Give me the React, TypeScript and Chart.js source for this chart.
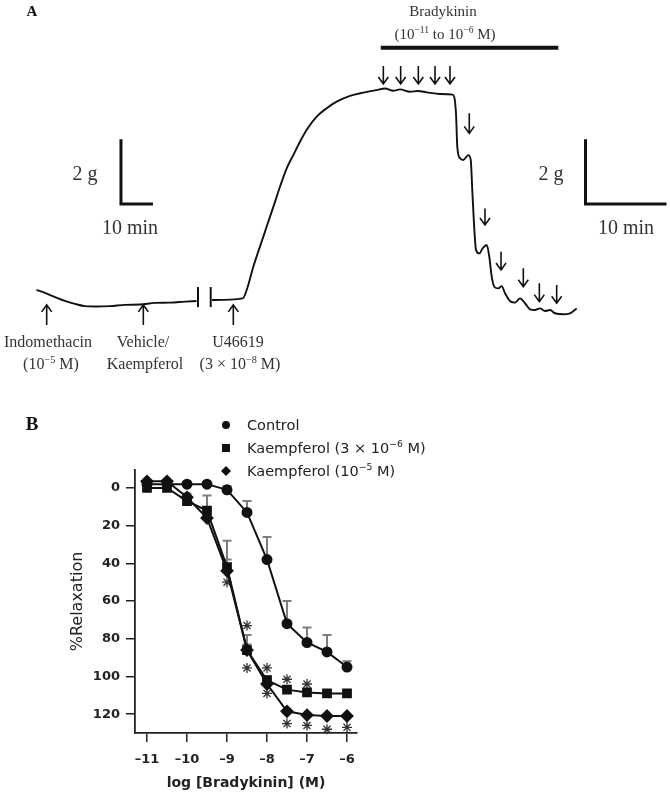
import React, { useEffect, useRef } from 'react';
import { Chart, registerables } from 'chart.js';

Chart.register(...registerables);

const SERIF = '"Liberation Serif", "Times New Roman", serif';
const SANS = '"DejaVu Sans", Verdana, sans-serif';

// ---------------- Panel A: isometric tension trace (time in min, tension in g) ----------------
const preBreakTime = [0.06, 1.11, 2.35, 3.58, 4.81, 6.05, 7.41, 9.14, 10.99, 12.84, 14.69, 16.54, 18.4, 19.81];
const preBreakTension = [0.31, 0.22, 0.09, -0.03, -0.12, -0.19, -0.2, -0.19, -0.15, -0.14, -0.09, -0.08, -0.05, -0.03];

const traceTime = [
  21.73, 25.52, 26.01, 26.83, 27.65, 28.48, 29.3, 30.12, 30.95, 31.77, 32.59, 33.42, 34.65, 35.89, 37.12,
  38.77, 40.41, 42.06, 43.09, 44.11, 44.94, 46.17, 47.16, 48.23, 49.88, 51.44, 51.85, 52.01, 52.35, 52.75,
  53.37, 53.67, 53.86, 54.07, 54.32, 54.73, 55.15, 55.64, 55.96, 56.26, 56.58, 57.07, 57.49, 57.9, 58.6,
  59.14, 59.75, 60.37, 60.99, 61.6, 62.22, 62.84, 63.46, 64.07, 65.1, 65.93, 66.75,
];
const traceTension = [
  0, 0.05, 0.31, 1.03, 1.65, 2.27, 2.88, 3.5, 4.07, 4.48, 4.89, 5.26, 5.67, 5.93, 6.13,
  6.31, 6.41, 6.49, 6.54, 6.47, 6.51, 6.44, 6.46, 6.42, 6.37, 6.35, 5.77, 4.74, 4.38, 4.33,
  4.48, 4.33, 3.4, 2.37, 1.55, 1.44, 1.6, 1.7, 1.34, 0.72, 0.41, 0.36, 0.43, 0.21, -0.05,
  -0.08, 0.05, -0.1, -0.29, -0.31, -0.26, -0.34, -0.31, -0.41, -0.44, -0.41, -0.26,
];

// drug additions (time, arrow tail tension, arrow tip tension)
const drugArrowTime = [1.32, 13.25, 24.36];
const bradykininArrowTime = [42.88, 45.02, 47.2, 49.26, 51.11, 53.49, 55.43, 57.41, 60.16, 62.14, 64.28];
const bradykininArrowTail = [7.23, 7.23, 7.23, 7.23, 7.23, 5.77, 2.83, 1.49, 0.98, 0.52, 0.46];
const bradykininArrowTip = [6.68, 6.68, 6.68, 6.68, 6.68, 5.15, 2.32, 0.93, 0.41, -0.05, -0.1];

// ---------------- Panel B: concentration-response curves ----------------
const logBradykinin = [-11, -10.5, -10, -9.5, -9, -8.5, -8, -7.5, -7, -6.5, -6];
const controlRelax = [-2, -2, -2, -2, 1, 13, 38, 72, 82, 87, 95];
const controlSem = [0, 0, 0, 0, 2, 6, 12, 12, 8, 9, 3];
const kaemp3Relax = [0, 0, 7, 12, 42, 86, 102, 107, 108.5, 109, 109];
const kaemp3Sem = [1, 1, 3, 8, 14, 8, 2, 1, 1, 1, 1];
const kaemp10Relax = [-3.5, -3.5, 5, 16, 44, 86, 104, 118.5, 120.5, 121, 121];
const kaemp10Sem = [1, 1, 2, 4, 6, 3, 2, 1, 1, 1, 1];
const sigX = [-9, -8.5, -8.5, -8, -8, -7.5, -7.5, -7, -7, -6.5, -6];
const sigY = [50, 73, 95.5, 95.5, 109, 101.5, 125, 104, 126, 128, 127];
const xTickValues = [-11, -10, -9, -8, -7, -6];
const yTickValues = [0, 20, 40, 60, 80, 100, 120];

type Seg = { t: string; sup?: boolean };

function drawSegs(
  ctx: CanvasRenderingContext2D,
  segs: Seg[],
  x: number,
  cy: number,
  size: number,
  family: string,
  align: 'center' | 'left' = 'center',
  weight = 'normal'
) {
  const supSize = size * 0.64;
  const widths = segs.map((s) => {
    ctx.font = `${weight} ${s.sup ? supSize : size}px ${family}`;
    return ctx.measureText(s.t).width;
  });
  const total = widths.reduce((a, b) => a + b, 0);
  let px = align === 'center' ? x - total / 2 : x;
  const base = cy + size * 0.33;
  ctx.textAlign = 'left';
  ctx.textBaseline = 'alphabetic';
  segs.forEach((s, i) => {
    ctx.font = `${weight} ${s.sup ? supSize : size}px ${family}`;
    ctx.fillText(s.t, px, s.sup ? base - size * 0.4 : base);
    px += widths[i];
  });
}

function arrow(ctx: CanvasRenderingContext2D, x: number, yTail: number, yTip: number) {
  const dir = Math.sign(yTip - yTail);
  ctx.beginPath();
  ctx.moveTo(x, yTail);
  ctx.lineTo(x, yTip);
  ctx.moveTo(x - 5, yTip - dir * 7);
  ctx.lineTo(x, yTip);
  ctx.lineTo(x + 5, yTip - dir * 7);
  ctx.stroke();
}

const panelAPlugin = {
  id: 'panelA',
  afterDatasetsDraw(chart: any) {
    const { ctx } = chart;
    const X = (t: number) => chart.scales.x.getPixelForValue(t);
    const Y = (g: number) => chart.scales.y.getPixelForValue(g);
    ctx.save();
    ctx.strokeStyle = '#111';
    ctx.lineCap = 'butt';

    // break in the recording
    ctx.lineWidth = 2;
    [20.0, 21.57].forEach((t) => {
      ctx.beginPath();
      ctx.moveTo(X(t), Y(0.4));
      ctx.lineTo(X(t), Y(-0.22));
      ctx.stroke();
    });

    // arrows
    ctx.lineWidth = 1.6;
    drugArrowTime.forEach((t) => arrow(ctx, X(t), Y(-0.77), Y(-0.15)));
    bradykininArrowTime.forEach((t, i) => arrow(ctx, X(t), Y(bradykininArrowTail[i]), Y(bradykininArrowTip[i])));

    // bradykinin exposure bar
    ctx.lineWidth = 4;
    ctx.beginPath();
    ctx.moveTo(X(42.56), Y(7.8));
    ctx.lineTo(X(64.48), Y(7.8));
    ctx.stroke();

    // scale bars
    ctx.lineWidth = 3;
    ctx.lineJoin = 'miter';
    ctx.beginPath();
    ctx.moveTo(X(10.49), Y(4.97));
    ctx.lineTo(X(10.49), Y(2.97));
    ctx.lineTo(X(14.44), Y(2.97));
    ctx.stroke();
    ctx.beginPath();
    ctx.moveTo(X(67.84), Y(4.97));
    ctx.lineTo(X(67.84), Y(2.97));
    ctx.lineTo(X(77.84), Y(2.97));
    ctx.stroke();

    // texts
    ctx.fillStyle = '#111';
    drawSegs(ctx, [{ t: 'A' }], 32, 11, 15, SERIF, 'center', 'bold');
    ctx.fillStyle = '#333';
    drawSegs(ctx, [{ t: 'Bradykinin' }], 443, 11, 15, SERIF);
    drawSegs(ctx, [{ t: '(10' }, { t: '\u221211', sup: true }, { t: ' to 10' }, { t: '\u22126', sup: true }, { t: ' M)' }], 445, 34, 15, SERIF);
    drawSegs(ctx, [{ t: '2 g' }], 85, 173, 20, SERIF);
    drawSegs(ctx, [{ t: '2 g' }], 551, 173, 20, SERIF);
    drawSegs(ctx, [{ t: '10 min' }], 130, 227, 20, SERIF);
    drawSegs(ctx, [{ t: '10 min' }], 626, 227, 20, SERIF);
    drawSegs(ctx, [{ t: 'Indomethacin' }], 48, 342, 16, SERIF);
    drawSegs(ctx, [{ t: '(10' }, { t: '\u22125', sup: true }, { t: ' M)' }], 51, 364, 16, SERIF);
    drawSegs(ctx, [{ t: 'Vehicle/' }], 143, 342, 16, SERIF);
    drawSegs(ctx, [{ t: 'Kaempferol' }], 145, 364, 16, SERIF);
    drawSegs(ctx, [{ t: 'U46619' }], 238, 342, 16, SERIF);
    drawSegs(ctx, [{ t: '(3 \u00d7 10' }, { t: '\u22128', sup: true }, { t: ' M)' }], 240, 364, 16, SERIF);
    ctx.restore();
  },
};

const series = [
  { vals: controlRelax, sem: controlSem },
  { vals: kaemp3Relax, sem: kaemp3Sem },
  { vals: kaemp10Relax, sem: kaemp10Sem },
];

const panelBPlugin = {
  id: 'panelB',
  beforeDatasetsDraw(chart: any) {
    const { ctx } = chart;
    const { x, y } = chart.scales;
    ctx.save();
    ctx.strokeStyle = '#7d7d7d';
    ctx.lineWidth = 2;
    series.forEach(({ vals, sem }) => {
      logBradykinin.forEach((lx, i) => {
        if (sem[i] < 1.5) return;
        const px = x.getPixelForValue(lx);
        const p0 = y.getPixelForValue(vals[i]);
        const p1 = y.getPixelForValue(vals[i] - sem[i]);
        ctx.beginPath();
        ctx.moveTo(px, p0);
        ctx.lineTo(px, p1);
        ctx.moveTo(px - 4.5, p1);
        ctx.lineTo(px + 4.5, p1);
        ctx.stroke();
      });
    });
    ctx.restore();
  },
  afterDraw(chart: any) {
    const { ctx } = chart;
    ctx.save();
    ctx.fillStyle = '#111';
    drawSegs(ctx, [{ t: 'B' }], 32, 44, 19, SERIF, 'center', 'bold');
    // legend
    const mx = 226;
    ctx.fillStyle = '#111';
    ctx.beginPath();
    ctx.arc(mx, 45, 4, 0, Math.PI * 2);
    ctx.fill();
    ctx.fillRect(mx - 4, 68 - 4, 8, 8);
    ctx.beginPath();
    ctx.moveTo(mx, 91 - 5);
    ctx.lineTo(mx + 5, 91);
    ctx.lineTo(mx, 91 + 5);
    ctx.lineTo(mx - 5, 91);
    ctx.closePath();
    ctx.fill();
    ctx.fillStyle = '#222';
    drawSegs(ctx, [{ t: 'Control' }], 247, 45, 14.5, SANS, 'left');
    drawSegs(ctx, [{ t: 'Kaempferol (3 \u00d7 10' }, { t: '\u22126', sup: true }, { t: ' M)' }], 247, 68, 14.5, SANS, 'left');
    drawSegs(ctx, [{ t: 'Kaempferol (10' }, { t: '\u22125', sup: true }, { t: ' M)' }], 247, 91, 14.5, SANS, 'left');
    ctx.restore();
  },
};

export default function App() {
  const refA = useRef<HTMLCanvasElement | null>(null);
  const refB = useRef<HTMLCanvasElement | null>(null);

  useEffect(() => {
    const lineStyle = {
      borderColor: '#111',
      borderWidth: 1.9,
      pointRadius: 0,
      fill: false,
      cubicInterpolationMode: 'monotone' as const,
    };
    const chartA = new Chart(refA.current!, {
      type: 'line',
      data: {
        datasets: [
          { ...lineStyle, data: preBreakTime.map((t, i) => ({ x: t, y: preBreakTension[i] })) },
          { ...lineStyle, data: traceTime.map((t, i) => ({ x: t, y: traceTension[i] })) },
        ],
      },
      options: {
        animation: false,
        responsive: false,
        devicePixelRatio: 1,
        events: [],
        layout: { padding: 0 },
        plugins: { legend: { display: false }, tooltip: { enabled: false } },
        scales: {
          x: { type: 'linear', display: false, min: -4.444, max: 78.27 },
          y: { type: 'linear', display: false, min: -2.473, max: 9.274 },
        },
      },
      plugins: [panelAPlugin],
    });

    const mk = (vals: number[]) => logBradykinin.map((x, i) => ({ x, y: vals[i] }));
    const common = {
      showLine: true,
      borderColor: '#111',
      backgroundColor: '#111',
      borderWidth: 2,
      clip: false as any,
    };
    const axisFont = { family: SANS, size: 13, weight: 'bold' as const };
    const chartB = new Chart(refB.current!, {
      type: 'scatter',
      data: {
        datasets: [
          { ...common, label: 'Control', data: mk(controlRelax), pointStyle: 'circle', pointRadius: 4.5 },
          { ...common, label: 'Kaempferol (3 × 10⁻⁶ M)', data: mk(kaemp3Relax), pointStyle: 'rect', pointRadius: 5.5 },
          { ...common, label: 'Kaempferol (10⁻⁵ M)', data: mk(kaemp10Relax), pointStyle: 'rectRot', pointRadius: 5.5 },
          {
            label: 'P < 0.05',
            data: sigX.map((x, i) => ({ x, y: sigY[i] })),
            showLine: false,
            pointStyle: 'star',
            pointRadius: 5,
            borderColor: '#333',
            borderWidth: 1.3,
            clip: false as any,
          },
        ],
      },
      options: {
        animation: false,
        responsive: false,
        devicePixelRatio: 1,
        events: [],
        layout: { padding: { left: 64, right: 313, top: 90, bottom: 0 } },
        plugins: { legend: { display: false }, tooltip: { enabled: false } },
        scales: {
          x: {
            type: 'linear',
            min: -11.3,
            max: -5.75,
            afterFit: (s: any) => {
              s.height = 69;
            },
            afterBuildTicks: (s: any) => {
              s.ticks = xTickValues.map((v) => ({ value: v }));
            },
            ticks: {
              font: axisFont,
              color: '#222',
              padding: 10,
              callback: (v: any) => (Number(v) < 0 ? '\u2013' + Math.abs(Number(v)) : String(v)),
            },
            grid: { drawOnChartArea: false, drawTicks: true, tickLength: 9, color: '#222', lineWidth: 1.5 },
            border: { display: true, color: '#222', width: 1.8 },
            title: {
              display: true,
              text: 'log [Bradykinin] (M)',
              font: { family: SANS, size: 14, weight: 'bold' },
              color: '#222',
              padding: { top: 4, bottom: 10 },
            },
          },
          y: {
            type: 'linear',
            reverse: true,
            min: -9.5,
            max: 130,
            afterFit: (s: any) => {
              s.width = 71;
            },
            afterBuildTicks: (s: any) => {
              s.ticks = yTickValues.map((v) => ({ value: v }));
            },
            ticks: { font: axisFont, color: '#222', padding: 6 },
            grid: { drawOnChartArea: false, drawTicks: true, tickLength: 9, color: '#222', lineWidth: 1.5 },
            border: { display: true, color: '#222', width: 1.8 },
            title: {
              display: true,
              text: '%Relaxation',
              font: { family: SANS, size: 16 },
              color: '#222',
              padding: { top: 4, bottom: 4 },
            },
          },
        },
      },
      plugins: [panelBPlugin],
    });

    return () => {
      chartA.destroy();
      chartB.destroy();
    };
  }, []);

  return (
    <div style={{ position: 'absolute', left: 0, top: 0, width: 670, height: 802, background: '#fff' }}>
      <canvas ref={refA} width={670} height={380} style={{ position: 'absolute', left: 0, top: 0, display: 'block' }} />
      <canvas ref={refB} width={670} height={422} style={{ position: 'absolute', left: 0, top: 380, display: 'block' }} />
    </div>
  );
}
